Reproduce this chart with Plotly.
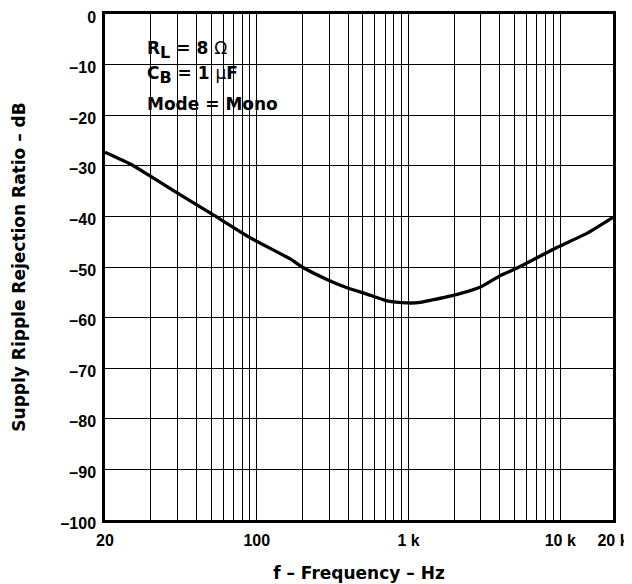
import math
import plotly.graph_objects as go

# ---- data (x in the chart's grid units) ----
freq_hz = [10, 14.6, 19.8, 29.7, 50.5, 90.3, 166, 199, 297, 402, 526, 723,
           980, 1193, 1327, 1979, 3013, 4022, 5365, 9550, 15300, 22260]
ssr_db = [-27.3, -29.6, -32.0, -35.3, -39.5, -44.2, -48.4, -50.0, -52.6, -54.2,
          -55.3, -56.7, -57.1, -57.0, -56.7, -55.6, -53.9, -51.7, -50.0, -46.1,
          -43.2, -40.2]

x_label_vals = [10, 100, 1000, 10000, 22250]
x_label_text = ["20", "100", "1 k", "10 k", "20 k"]
y_tick_vals = [0, -10, -20, -30, -40, -50, -60, -70, -80, -90, -100]
y_tick_text = ["0", "–10", "–20", "–30", "–40", "–50", "–60", "–70", "–80", "–90", "–100"]

conditions = ["R<sub><span style='font-size:16px'>L</span></sub> = 8 <span style='font-weight:normal'>Ω</span>",
              "C<sub><span style='font-size:16px'>B</span></sub> = 1 <span style='font-weight:normal'>μ</span>F",
              "Mode = Mono"]

# grid lines of the log paper: 10..90, 100..900, 1k..9k, 10k
x_grid_vals = [m * 10 ** e for e in (1, 2, 3) for m in range(1, 10)] + [10000]
x_tick_vals = sorted(set(x_grid_vals + x_label_vals))
label_map = dict(zip(x_label_vals, x_label_text))
x_tick_text = [label_map.get(v, "") for v in x_tick_vals]

TICK_FONT = "Liberation Sans"
TEXT_FONT = "DejaVu Sans"

fig = go.Figure()
fig.add_trace(go.Scatter(
    x=freq_hz, y=ssr_db, mode="lines",
    line=dict(color="black", width=3.3, shape="spline", smoothing=0.5),
    showlegend=False, hoverinfo="skip"))

# the page body adds an 8 px offset, so the figure is 8 px smaller
fig.update_layout(
    width=624, height=576,
    margin=dict(l=97, r=19, t=6, b=64, autoexpand=False),
    plot_bgcolor="white", paper_bgcolor="white",
    font=dict(family=TEXT_FONT, size=15, color="black"),
    xaxis=dict(
        type="log", range=[1, math.log10(22260)], automargin=False,
        tickvals=x_tick_vals, ticktext=x_tick_text,
        showgrid=True, gridcolor="black", gridwidth=1,
        showline=True, linecolor="black", linewidth=2.5, mirror=True,
        ticks="", ticklabelstandoff=4, ticklabeloverflow="allow",
        tickfont=dict(family=TICK_FONT, size=16, weight="bold"),
        title=dict(text="f – Frequency – Hz", standoff=20,
                   font=dict(family=TEXT_FONT, size=17, weight="bold")),
    ),
    yaxis=dict(
        range=[-100, 0], automargin=False,
        tickvals=y_tick_vals, ticktext=y_tick_text,
        showgrid=True, gridcolor="black", gridwidth=1, zeroline=False,
        showline=True, linecolor="black", linewidth=2.5, mirror=True,
        ticks="", ticklabelstandoff=3, ticklabeloverflow="allow",
        ticklabelshift=3,
        tickfont=dict(family=TICK_FONT, size=16, weight="bold"),
        title=dict(text="Supply Ripple Rejection Ratio – dB", standoff=31,
                   font=dict(family=TEXT_FONT, size=17, weight="bold")),
    ),
)

# white panel behind the condition text (hides the grid there)
fig.add_shape(type="rect", xref="paper", yref="paper",
              x0=0.049, x1=0.384, y0=0.785, y1=0.961,
              fillcolor="white", line=dict(width=0), layer="between")

for txt, yp in zip(conditions, [0.929, 0.879, 0.823]):
    fig.add_annotation(text=txt, xref="paper", yref="paper", x=0.0788, y=yp,
                       xanchor="left", yanchor="middle", showarrow=False,
                       font=dict(family=TEXT_FONT, size=17, weight="bold", color="black"))

fig.write_html("out.html")
